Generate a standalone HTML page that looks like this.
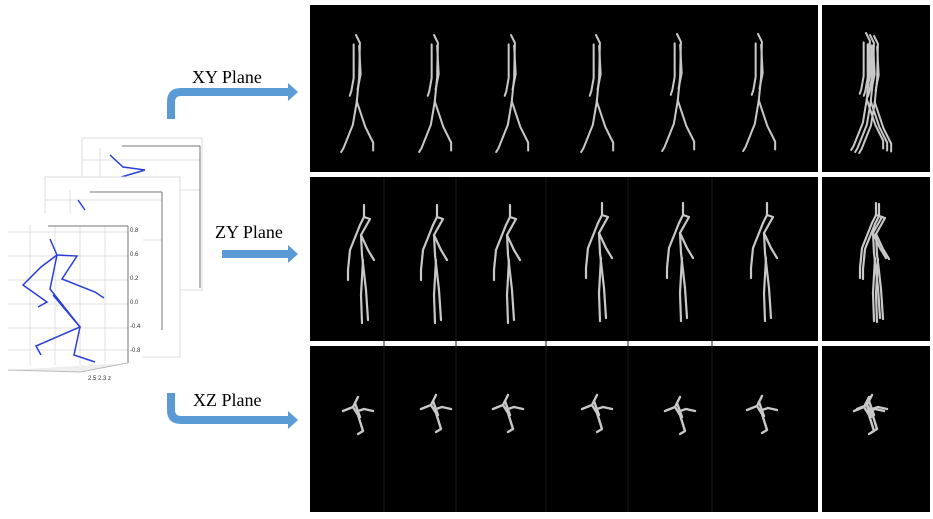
<!DOCTYPE html>
<html><head><meta charset="utf-8"><style>
body{margin:0;background:#fff;width:933px;height:519px;overflow:hidden;font-family:"Liberation Serif",serif}
svg{display:block}
</style></head><body>
<svg width="933" height="519" viewBox="0 0 933 519">
<defs>
<g id="xyfig" fill="none" stroke="#c8c8c8" stroke-width="2.6" stroke-linecap="round" stroke-linejoin="round">
 <polyline points="0,0 5,10 4,55 1,85"/>
 <polyline points="-3,12 -3,55 -6,72 -8,78"/>
 <polyline points="4,14 6,50 2,70"/>
 <polyline points="1,85 -4,115 -16,145 -19,150"/>
 <polyline points="1,85 12,118 22,138 22,148"/>
</g>
<g id="zyfig" fill="none" stroke="#c8c8c8" stroke-width="2.2" stroke-linecap="round" stroke-linejoin="round">
 <polyline points="0,0 0,12"/>
 <polyline points="-4,20 0,12 6,14 -3,30 -2,50"/>
 <polyline points="-4,20 -14,45 -16,65 -16,75"/>
 <polyline points="-3,30 4,45 10,55"/>
 <polyline points="-2,50 2,85 4,115"/>
 <polyline points="-1,55 -3,90 -2,118"/>
</g>
<g id="xzfig" fill="none" stroke="#c8c8c8" stroke-width="2.4" stroke-linecap="round" stroke-linejoin="round">
 <polyline points="-15,4 -5,0 0,-10"/>
 <polyline points="-5,0 0,8 5,24 0,27"/>
 <polyline points="0,4 6,2 15,4"/>
 <polyline points="-3,-4 2,10"/>
</g>
</defs>
<rect x="310" y="5" width="508" height="167" fill="#000"/>
<rect x="822" y="5" width="108" height="167" fill="#000"/>
<rect x="310" y="177" width="508" height="164" fill="#000"/>
<rect x="822" y="177" width="108" height="164" fill="#000"/>
<rect x="310" y="346" width="508" height="166" fill="#000"/>
<rect x="822" y="346" width="108" height="166" fill="#000"/>
<g stroke="#1a1a1a" stroke-width="1">
 <line x1="384" y1="177" x2="384" y2="512"/><line x1="456" y1="177" x2="456" y2="512"/>
 <line x1="546" y1="177" x2="546" y2="512"/><line x1="628" y1="177" x2="628" y2="512"/>
 <line x1="712" y1="177" x2="712" y2="512"/>
</g>
<g>
 <use href="#xyfig" transform="translate(356,35) scale(0.78)"/>
 <use href="#xyfig" transform="translate(434,35) scale(0.78)"/>
 <use href="#xyfig" transform="translate(511,35) scale(0.78)"/>
 <use href="#xyfig" transform="translate(596,35) scale(0.78)"/>
 <use href="#xyfig" transform="translate(677,34) scale(0.78)"/>
 <use href="#xyfig" transform="translate(758,34) scale(0.78)"/>
 <use href="#xyfig" transform="translate(866,33) scale(0.78)"/>
 <use href="#xyfig" transform="translate(870,35) scale(0.78)"/>
 <use href="#xyfig" transform="translate(874,36) scale(0.78)"/>
</g>
<g>
 <use href="#zyfig" x="364" y="205"/><use href="#zyfig" x="437" y="205"/><use href="#zyfig" x="510" y="205"/>
 <use href="#zyfig" x="602" y="203"/><use href="#zyfig" x="683" y="203"/><use href="#zyfig" x="767" y="203"/>
 <use href="#zyfig" x="876" y="203"/><use href="#zyfig" x="879" y="204"/>
</g>
<g>
 <use href="#xzfig" x="358" y="407"/><use href="#xzfig" x="436" y="405"/><use href="#xzfig" x="508" y="405"/>
 <use href="#xzfig" x="597" y="405"/><use href="#xzfig" x="680" y="407"/><use href="#xzfig" x="762" y="406"/>
 <use href="#xzfig" x="869" y="407"/><use href="#xzfig" x="872" y="405"/>
</g>
<g>
 <rect x="82" y="138" width="120" height="152" fill="#fff" stroke="#ddd"/>
 <g stroke="#e2e2e2"><line x1="82" y1="160" x2="200" y2="160"/><line x1="82" y1="190" x2="200" y2="190"/><line x1="100" y1="148" x2="100" y2="290"/></g>
 <line x1="122" y1="146" x2="200" y2="146" stroke="#777"/><line x1="200" y1="146" x2="200" y2="288" stroke="#777"/>
 <polyline points="110,155 123,167 145,170 118,178" fill="none" stroke="#2a3fd6" stroke-width="1.5"/>
</g>
<g>
 <rect x="45" y="177" width="135" height="180" fill="#fff" stroke="#ddd"/>
 <g stroke="#e2e2e2"><line x1="45" y1="200" x2="162" y2="200"/><line x1="45" y1="240" x2="162" y2="240"/><line x1="70" y1="190" x2="70" y2="350"/></g>
 <line x1="90" y1="192" x2="162" y2="192" stroke="#777"/><line x1="162" y1="192" x2="162" y2="330" stroke="#777"/>
 <polyline points="78,200 85,210" fill="none" stroke="#2a3fd6" stroke-width="1.5"/>
</g>
<g>
 <rect x="8" y="213" width="135" height="155" fill="#fff"/>
 <g stroke="#e0e0e0">
  <line x1="8" y1="232" x2="128" y2="232"/><line x1="8" y1="256" x2="128" y2="256"/><line x1="8" y1="280" x2="128" y2="280"/>
  <line x1="8" y1="304" x2="128" y2="304"/><line x1="8" y1="328" x2="128" y2="328"/><line x1="8" y1="350" x2="128" y2="350"/>
  <line x1="30" y1="225" x2="30" y2="365"/><line x1="55" y1="225" x2="55" y2="365"/><line x1="80" y1="225" x2="80" y2="365"/><line x1="105" y1="225" x2="105" y2="365"/>
 </g>
 <line x1="48" y1="226" x2="128" y2="226" stroke="#777"/><line x1="128" y1="226" x2="128" y2="363" stroke="#777"/>
 <polyline points="8,370 80,372 128,363" fill="#eee" stroke="#bbb"/>
 <g fill="none" stroke="#2a3fd6" stroke-width="1.5">
  <polyline points="50,239 57,255 77,256 62,279 95,292 104,298"/>
  <polyline points="57,255 41,267 23,285 47,302 38,307"/>
  <polyline points="57,255 50,289 80,327 74,355 95,362"/>
  <polyline points="53,295 80,327 36,346 41,355"/>
 </g>
 <g font-family="Liberation Sans,sans-serif" font-size="6" fill="#333">
  <text x="130" y="232">0.8</text><text x="130" y="256">0.6</text><text x="130" y="280">0.2</text><text x="130" y="304">0.0</text><text x="130" y="328">-0.4</text><text x="130" y="352">-0.8</text>
  <text x="88" y="380">2.5 2.3 z</text>
 </g>
</g>
<g fill="#5b9bd5">
 <path d="M167,119 L167,102 Q167,88 181,88 L288,88 L288,96 L181,96 Q175,96 175,102 L175,119 Z"/>
 <polygon points="288,83 298,92 288,101"/>
 <rect x="222" y="250" width="68" height="8"/>
 <polygon points="288,245 298,254 288,263"/>
 <path d="M167,393 L175,393 L175,410 Q175,416 181,416 L288,416 L288,424 L181,424 Q167,424 167,410 Z"/>
 <polygon points="288,411 298,420 288,429"/>
</g>
<g font-size="18" fill="#000">
 <text x="192" y="83">XY Plane</text>
 <text x="215" y="238">ZY Plane</text>
 <text x="193" y="406">XZ Plane</text>
</g>
</svg>
</body></html>
